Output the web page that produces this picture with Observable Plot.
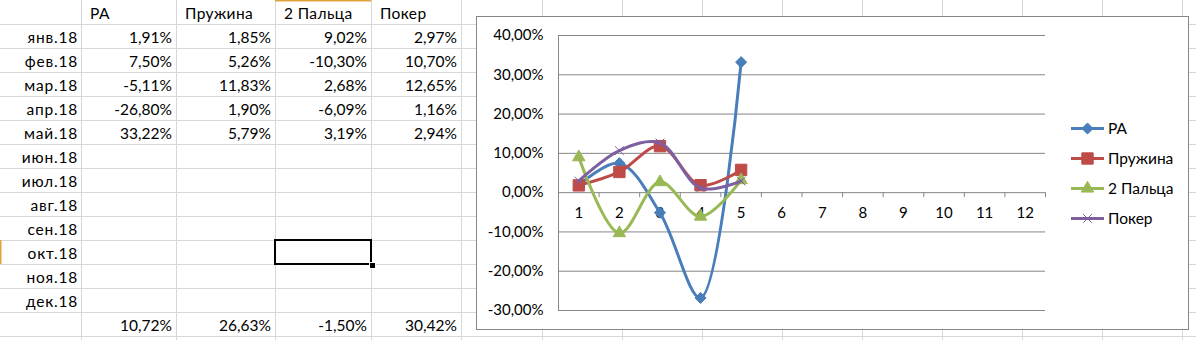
<!DOCTYPE html>
<html><head><meta charset="utf-8">
<script src="https://cdn.jsdelivr.net/npm/d3@7"></script>
<script src="https://cdn.jsdelivr.net/npm/@observablehq/plot@0.6"></script>
<style>
html,body{margin:0;padding:0;background:#fff;}
#page{position:relative;width:1196px;height:340px;overflow:hidden;font-family:Lato,"Noto Sans",sans-serif;color:#000;}
#grid{position:absolute;left:0;top:0;}
.cell{position:absolute;box-sizing:border-box;height:24px;line-height:24px;font-size:15.5px;white-space:nowrap;padding-top:1px;}
.r{text-align:right;padding-right:4px;}
.l{text-align:left;padding-left:9px;letter-spacing:0.4px;}
.m{letter-spacing:0.8px;padding-right:3px;}
#chart{position:absolute;left:476px;top:16px;width:711px;height:312px;border:1px solid #868686;background:#fff;}
#chart svg{position:absolute;left:0;top:0;}
#legend{position:absolute;left:594px;top:96px;font-size:15.5px;}
.lg{position:absolute;left:0;height:30px;white-space:nowrap;}
.lg svg{position:absolute;left:0;top:0;}
.lg span{position:absolute;left:37px;top:0;line-height:30px;}
</style></head>
<body><div id="page"></div>
<script>
// ---- data ----
const months = ["янв.18","фев.18","мар.18","апр.18","май.18","июн.18","июл.18","авг.18","сен.18","окт.18","ноя.18","дек.18"];
const seriesNames = ["РА","Пружина","2 Пальца","Покер"];
const valuesRA = [1.91, 7.50, -5.11, -26.80, 33.22];
const valuesPruzhina = [1.85, 5.26, 11.83, 1.90, 5.79];
const valuesPalca = [9.02, -10.30, 2.68, -6.09, 3.19];
const valuesPoker = [2.97, 10.70, 12.65, 1.16, 2.94];
const totals = [10.72, 26.63, -1.50, 30.42];
const xTicks = [1,2,3,4,5,6,7,8,9,10,11,12];
const yTicks = [-30,-20,-10,0,10,20,30,40];
const seriesColors = ["#4A7EBB","#BE4B48","#98B954","#7D60A0"];
const seriesSymbols = ["diamond2","square","triangle","times"];
const symbolR = [5, 6.4, 4.6, 4];

const seriesValues = [valuesRA, valuesPruzhina, valuesPalca, valuesPoker];
const pct = v => v.toFixed(2).replace(".", ",") + "%";

const page = document.getElementById("page");

// ---- spreadsheet grid ----
const colEdges = [0,81,176,275,371,461];
const extraCols = d3.range(542, 1196, 80);
const rowH = 24;
const gsvg = d3.select(page).append("svg").attr("id","grid").attr("width",1196).attr("height",340);
[...colEdges.slice(1), ...extraCols].forEach(x => gsvg.append("line").attr("x1",x+0.5).attr("x2",x+0.5).attr("y1",0).attr("y2",340).attr("stroke","#D8D8D8"));
d3.range(1, 15).forEach(k => gsvg.append("line").attr("x1",0).attr("x2",1196).attr("y1",k*rowH+0.5).attr("y2",k*rowH+0.5).attr("stroke","#D8D8D8"));
// header highlight marks
gsvg.append("rect").attr("x",275).attr("y",0).attr("width",96).attr("height",1.5).attr("fill","#E1A23A");
gsvg.append("rect").attr("x",0).attr("y",240).attr("width",1.5).attr("height",24).attr("fill","#E1A23A");

function cell(text, c, r, cls) {
  const d = document.createElement("div");
  d.className = "cell " + cls;
  d.style.left = colEdges[c] + "px";
  d.style.width = (colEdges[c+1] - colEdges[c]) + "px";
  d.style.top = (r*rowH) + "px";
  d.textContent = text;
  page.appendChild(d);
}
seriesNames.forEach((s, i) => cell(s, i+1, 0, "l"));
months.forEach((m, r) => {
  cell(m, 0, r+1, "r m");
  seriesValues.forEach((vals, i) => { if (r < vals.length) cell(pct(vals[r]), i+1, r+1, "r"); });
});
totals.forEach((t, i) => cell(pct(t), i+1, 13, "r"));

// selected cell
const sel = document.createElement("div");
sel.style.cssText = "position:absolute;left:274px;top:239px;width:98px;height:26px;box-sizing:border-box;border:2px solid #000;";
page.appendChild(sel);
const handle = document.createElement("div");
handle.style.cssText = "position:absolute;left:369px;top:262px;width:5px;height:5px;background:#000;border:1px solid #fff;box-sizing:content-box;";
page.appendChild(handle);

// ---- chart ----
const chartDiv = document.createElement("div");
chartDiv.id = "chart";
page.appendChild(chartDiv);

const data = seriesValues.flatMap((vals, i) => vals.map((v, j) => ({series: seriesNames[i], x: xTicks[j], y: v, i})));
const boundaries = d3.range(0, xTicks.length + 1).map(k => xTicks[0] - 0.5 + k);

const marks = [
  Plot.ruleY(yTicks, {y: d => d, stroke: "#868686", strokeWidth: 1}),
  Plot.ruleX([boundaries[0]], {x: d => d, stroke: "#868686"}),
  Plot.ruleX(boundaries, {x: d => d, y1: 0, y2: 0, insetTop: 0, insetBottom: -5, stroke: "#868686"}),
  Plot.text(yTicks, {x: boundaries[0], y: d => d, dx: -15, textAnchor: "end", text: d => pct(d), fontSize: 15}),
  Plot.text(xTicks, {x: d => d, y: 0, dy: 21, text: d => String(d), fontSize: 15})
];
seriesNames.forEach((s, i) => {
  const sd = data.filter(d => d.i === i);
  marks.push(Plot.line(sd, {x: "x", y: "y", stroke: seriesColors[i], strokeWidth: 3, curve: "catmull-rom"}));
  const isStroke = seriesSymbols[i] === "times";
  marks.push(Plot.dot(sd, {x: "x", y: "y", symbol: seriesSymbols[i], r: symbolR[i],
    fill: isStroke ? "none" : seriesColors[i], stroke: seriesColors[i], strokeWidth: 1}));
});

const chart = Plot.plot({
  width: 711, height: 312,
  marginLeft: 81, marginRight: 143, marginTop: 18, marginBottom: 19,
  x: {domain: [boundaries[0], boundaries[boundaries.length-1]], axis: null},
  y: {domain: [yTicks[0], yTicks[yTicks.length-1]], axis: null},
  style: {fontFamily: "Lato, 'Noto Sans', sans-serif", fontSize: "15px", color: "#000", background: "transparent"},
  marks
});
chartDiv.appendChild(chart);

// legend
const legend = document.createElement("div");
legend.id = "legend";
chartDiv.appendChild(legend);
seriesNames.forEach((s, i) => {
  const row = document.createElement("div");
  row.className = "lg";
  row.style.top = (i*30) + "px";
  const svg = d3.create("svg").attr("width", 36).attr("height", 30);
  svg.append("line").attr("x1",0).attr("x2",33).attr("y1",15.5).attr("y2",15.5).attr("stroke",seriesColors[i]).attr("stroke-width",3);
  const sym = {diamond2: d3.symbolDiamond2, square: d3.symbolSquare, triangle: d3.symbolTriangle, times: d3.symbolTimes}[seriesSymbols[i]];
  const isStroke = seriesSymbols[i] === "times";
  svg.append("path").attr("transform","translate(16.5,15.5)")
    .attr("d", d3.symbol(sym, Math.PI*symbolR[i]*symbolR[i])())
    .attr("fill", isStroke ? "none" : seriesColors[i]).attr("stroke", seriesColors[i]).attr("stroke-width", 1);
  row.appendChild(svg.node());
  const sp = document.createElement("span");
  sp.textContent = s;
  row.appendChild(sp);
  legend.appendChild(row);
});
</script>
</body></html>
